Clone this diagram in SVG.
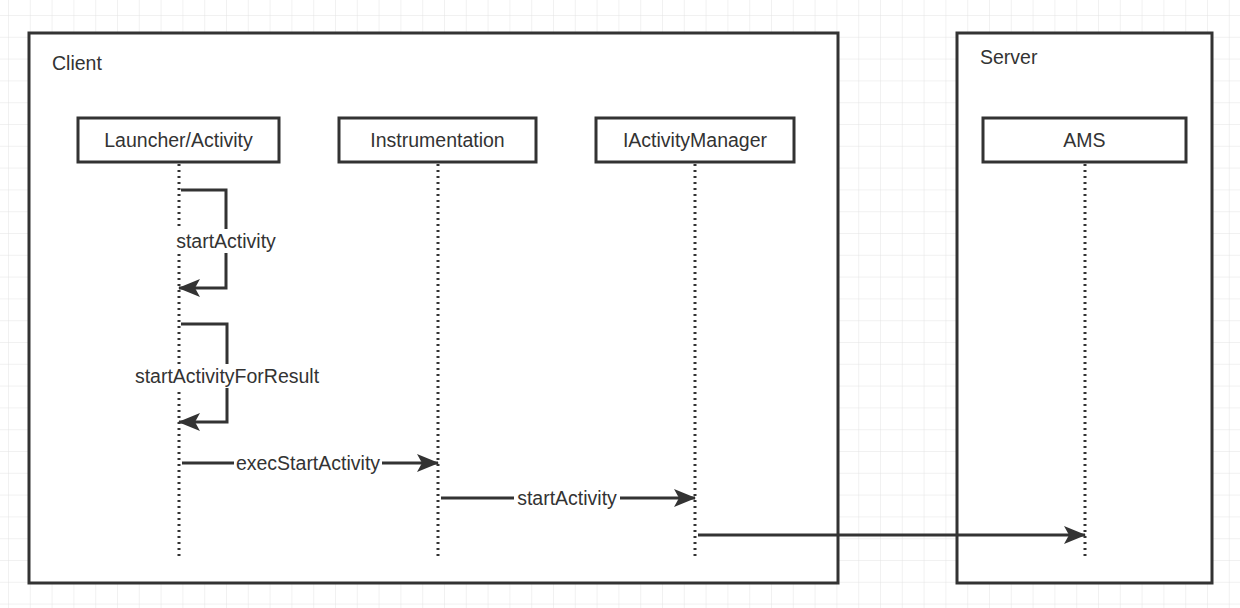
<svg xmlns="http://www.w3.org/2000/svg" width="1240" height="608" viewBox="0 0 1240 608">
<defs>
<pattern id="grid" width="21.8" height="21.8" patternUnits="userSpaceOnUse" x="8" y="15">
<path d="M0 0H21.8M0 0V21.8" fill="none" stroke="#e3e3e3" stroke-width="1"/>
</pattern>
<marker id="arr" markerWidth="22" markerHeight="18" refX="21" refY="9" orient="auto" markerUnits="userSpaceOnUse">
<path d="M0 0L22 9L0 18L5 9Z" fill="#333"/>
</marker>
<style>
.frame{fill:#fff;stroke:#333;stroke-width:3}
.node{fill:#fff;stroke:#333;stroke-width:3}
.t{font-family:"Liberation Sans",Arial,sans-serif;font-size:19.5px;fill:#333}
.life{stroke:#333;stroke-width:3;stroke-dasharray:2 4;fill:none}
.msg{stroke:#333;stroke-width:3;fill:none}
.lbl{fill:#fff}
</style>
</defs>
<rect width="1240" height="608" fill="#fff"/>
<rect width="1240" height="608" fill="url(#grid)"/>
<g id="client">
<rect class="frame" x="29" y="33" width="809" height="550"/>
<text class="t" x="52" y="70">Client</text>
</g>
<g id="server">
<rect class="frame" x="957" y="33" width="255" height="550"/>
<text class="t" x="980" y="64">Server</text>
</g>
<g id="lifelines">
<path class="life" d="M179 164V556"/>
<path class="life" d="M438 164V556"/>
<path class="life" d="M695 164V556"/>
<path class="life" d="M1085 164V556"/>
</g>
<g id="launcher">
<rect class="node" x="78" y="118" width="201" height="44"/>
<text class="t" x="178.5" y="147" text-anchor="middle">Launcher/Activity</text>
</g>
<g id="instrumentation">
<rect class="node" x="339" y="118" width="197" height="44"/>
<text class="t" x="437.5" y="147" text-anchor="middle">Instrumentation</text>
</g>
<g id="iactivitymanager">
<rect class="node" x="596" y="118" width="198" height="44"/>
<text class="t" x="695" y="147" text-anchor="middle">IActivityManager</text>
</g>
<g id="ams">
<rect class="node" x="983" y="118" width="203" height="44"/>
<text class="t" x="1084.5" y="147" text-anchor="middle">AMS</text>
</g>
<g id="connectors">
<path class="msg" d="M181 190H226V288H179" marker-end="url(#arr)"/>
<rect class="lbl" x="172" y="229" width="108" height="24"/>
<text class="t" x="226" y="248" text-anchor="middle">startActivity</text>
<path class="msg" d="M181 324H227V422H179" marker-end="url(#arr)"/>
<rect class="lbl" x="132" y="364" width="190" height="24"/>
<text class="t" x="227" y="383" text-anchor="middle">startActivityForResult</text>
<path class="msg" d="M182 463H438" marker-end="url(#arr)"/>
<rect class="lbl" x="234" y="451" width="148" height="24"/>
<text class="t" x="308" y="470" text-anchor="middle">execStartActivity</text>
<path class="msg" d="M441 498H695" marker-end="url(#arr)"/>
<rect class="lbl" x="514" y="486" width="106" height="24"/>
<text class="t" x="567" y="505" text-anchor="middle">startActivity</text>
<path class="msg" d="M698 535H1085" marker-end="url(#arr)"/>
</g>
</svg>
